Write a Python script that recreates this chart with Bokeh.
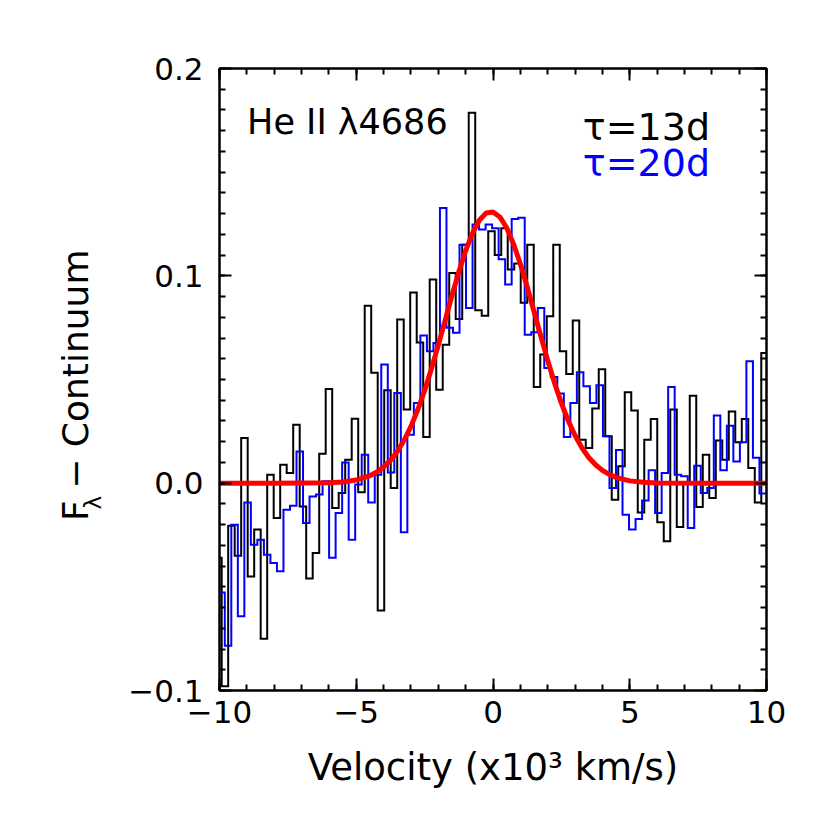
import numpy as np
from bokeh.plotting import figure
from bokeh.models import Range1d, LinearAxis, Label, Title, FixedTicker, CustomJSTickFormatter
from bokeh.embed import file_html
from bokeh.resources import INLINE

# ---------------- data ----------------
# velocity grids (x10^3 km/s): centre of first bin and bin width
black_v0, black_dv = -10.039, 0.2377
blue_v0, blue_dv = -9.926, 0.2384

# tau = 13d (black) flux - continuum, one value per bin
black_flux = [
    -0.036, -0.098, -0.0205, -0.035, 0.0218, -0.045, -0.0224, -0.075, 0.0041, -0.0168,
    0.0089, 0.0049, 0.0282, -0.0112, -0.046, -0.0337, 0.0142, 0.0454, -0.012, -0.0047,
    0.0113, 0.0311, -0.0044, 0.0856, 0.0532, -0.0614, 0.0448, -0.0023, 0.0789, 0.0355,
    0.092, 0.0679, 0.0223, 0.0982, 0.0451, 0.0668, 0.1014, 0.0792, 0.115, 0.1786,
    0.0834, 0.0808, 0.1215, 0.110, 0.123, 0.103, 0.106, 0.087, 0.115, 0.0464,
    0.062, 0.0805, 0.115, 0.0636, 0.0527, 0.0784, 0.021, 0.017, 0.036, 0.055,
    0.0226, -0.008, 0.0081, 0.0438, 0.0351, -0.0141, 0.021, 0.031, -0.0189, -0.028,
    0.0355, -0.0211, 0.0, 0.0422, -0.0115, 0.0137, -0.0071, 0.0206, 0.0113, 0.0346,
    0.0197, 0.031, 0.0073, -0.0093, 0.0628,
]

# tau = 20d (blue)
blue_flux = [
    -0.0527, -0.0784, -0.020, -0.0642, -0.0093, -0.0297, -0.0273, -0.0345, -0.0385, -0.0425,
    -0.0128, -0.0109, 0.0153, -0.0192, -0.0064, -0.0055, 0.0009, -0.036, -0.0144, 0.010,
    -0.0273, -0.0007, 0.0137, -0.0093, 0.0041, 0.0572, 0.0052, 0.0435, -0.0237, 0.0234,
    0.0387, 0.0712, 0.0636, 0.0676, 0.1327, 0.0749, 0.0725, 0.115, 0.0845, 0.1247,
    0.1223, 0.1247, 0.123, 0.108, 0.0958, 0.1274, 0.128, 0.0716, 0.0728, 0.0845,
    0.0556, 0.0512, 0.0432, 0.0223, 0.0387, 0.0535, 0.0467, 0.0387, 0.0472, 0.0226,
    -0.0023, 0.016, -0.0152, -0.0224, -0.0173, -0.0083, 0.0062, -0.0144, 0.0049, 0.0464,
    0.0041, 0.0033, -0.0216, 0.0084, -0.0047, -0.0023, 0.0326, 0.0062, 0.0277, 0.0105,
    0.0197, 0.0588, 0.0122, -0.005,
]

# fitted profile (red)
fit_v = [-10, -8, -6, -5.5, -5, -4.5, -4.25, -4, -3.75, -3.5, -3.25, -3, -2.75, -2.5,
         -2.25, -2, -1.75, -1.5, -1.25, -1, -0.75, -0.5, -0.25, 0, 0.25, 0.5, 0.75, 1,
         1.25, 1.5, 1.75, 2, 2.25, 2.5, 2.75, 3, 3.25, 3.5, 3.75, 4, 4.25, 4.5, 5, 5.5,
         6, 8, 10]
fit_flux = [0.0, 0.0, 0.0002, 0.0006, 0.0015, 0.0036, 0.0054, 0.0078, 0.0110, 0.0153,
            0.0207, 0.0274, 0.0354, 0.0447, 0.0552, 0.0666, 0.0785, 0.0905, 0.1019,
            0.1121, 0.1206, 0.1268, 0.1303, 0.1308, 0.1284, 0.1232, 0.1154, 0.1057,
            0.0947, 0.0828, 0.0708, 0.0592, 0.0483, 0.0386, 0.0301, 0.0230, 0.0171,
            0.0124, 0.0089, 0.0062, 0.0042, 0.0028, 0.0011, 0.0004, 0.0001, 0.0, 0.0]

x_ticks = [-10, -5, 0, 5, 10]
x_minor = list(range(-10, 11))
y_ticks = [-0.1, 0.0, 0.1, 0.2]
y_minor = [round(-0.1 + 0.01 * i, 2) for i in range(31)]

FONT = "DejaVu Sans"


def hist_path(v0, dv, f):
    f = np.asarray(f, dtype=float)
    centers = v0 + dv * np.arange(len(f))
    edges = np.concatenate([centers - dv / 2, [centers[-1] + dv / 2]])
    xs = np.repeat(edges, 2)[1:-1]
    ys = np.repeat(f, 2)
    return xs, ys


p = figure(width=812, height=812, output_backend="svg", toolbar_location=None,
           x_range=Range1d(-10, 10), y_range=Range1d(-0.1, 0.2),
           min_border_left=219, min_border_right=46, min_border_top=68,
           min_border_bottom=122, x_axis_location=None, y_axis_location=None)
p.xgrid.visible = False
p.ygrid.visible = False
p.outline_line_color = "black"
p.outline_line_width = 2
p.background_fill_color = "white"
p.border_fill_color = "white"

xfmt = CustomJSTickFormatter(code="var a = Math.round(Math.abs(tick)); return (tick < -1e-9 ? '\u2212' : '') + a.toString();")
yfmt = CustomJSTickFormatter(code="var s = Math.abs(tick).toFixed(1); return (tick < -1e-9 ? '\u2212' : '') + s;")
blank = CustomJSTickFormatter(code="return '';")


def style(ax, ticks, minor, labels):
    ax.ticker = FixedTicker(ticks=ticks, minor_ticks=minor)
    ax.axis_line_color = "black"
    ax.axis_line_width = 2
    ax.major_tick_line_color = "black"
    ax.major_tick_line_width = 2
    ax.minor_tick_line_color = "black"
    ax.minor_tick_line_width = 2
    ax.major_tick_in = 12
    ax.major_tick_out = 0
    ax.minor_tick_in = 6
    ax.minor_tick_out = 0
    ax.major_label_text_font = FONT
    ax.major_label_text_font_size = "31px"
    ax.major_label_text_color = "black"
    if labels is None:
        ax.formatter = blank
        ax.major_label_text_font_size = "0px"
    else:
        ax.formatter = labels


xb = LinearAxis()
style(xb, x_ticks, x_minor, xfmt)
xb.major_label_standoff = 10
xb.axis_label = "Velocity (x10\u00b3 km/s)"
xb.axis_label_text_font = FONT
xb.axis_label_text_font_size = "37px"
xb.axis_label_text_font_style = "normal"
xb.axis_label_text_color = "black"
xb.axis_label_standoff = 20
p.add_layout(xb, "below")

xt = LinearAxis()
style(xt, x_ticks, x_minor, None)
p.add_layout(xt, "above")

# left: ticks + tick labels (nearest the frame)
yl = LinearAxis()
style(yl, y_ticks, y_minor, yfmt)
yl.major_label_standoff = 16
p.add_layout(yl, "left")

# left: subscript lambda of the y title
lam = Title(text="\u03bb", align="left", offset=181, standoff=40, vertical_align="bottom",
            text_font=FONT, text_font_size="23px", text_font_style="normal",
            text_color="black")
p.add_layout(lam, "left")

# left: main y title
yl2 = LinearAxis(ticker=FixedTicker(ticks=[]), formatter=blank)
yl2.axis_line_color = None
yl2.major_tick_line_color = None
yl2.minor_tick_line_color = None
yl2.major_tick_out = 0
yl2.minor_tick_out = 0
yl2.major_tick_in = 0
yl2.minor_tick_in = 0
yl2.major_label_text_font_size = "0px"
yl2.major_label_standoff = 0
yl2.axis_label = "F  \u2212 Continuum"
yl2.axis_label_text_font = FONT
yl2.axis_label_text_font_size = "36px"
yl2.axis_label_text_font_style = "normal"
yl2.axis_label_text_color = "black"
yl2.axis_label_standoff = -38
p.add_layout(yl2, "left")

yr = LinearAxis()
style(yr, y_ticks, y_minor, None)
p.add_layout(yr, "right")

bx, by = hist_path(black_v0, black_dv, black_flux)
p.line(bx, by, line_color="black", line_width=2, line_join="miter")
ux, uy = hist_path(blue_v0, blue_dv, blue_flux)
p.line(ux, uy, line_color="#0000ff", line_width=2, line_join="miter")
p.line(fit_v, fit_flux, line_color="#ff0000", line_width=5)

# annotations inside the plot
p.add_layout(Label(x=-8.99, y=0.1741, text="He II \u03bb4686", text_font=FONT,
                   text_font_size="35px", text_color="black", text_baseline="alphabetic"))
p.add_layout(Label(x=5.61, y=0.1718, text="\u03c4=13d", text_font=FONT,
                   text_font_size="38px", text_color="black", text_align="center",
                   text_baseline="alphabetic"))
p.add_layout(Label(x=5.61, y=0.1546, text="\u03c4=20d", text_font=FONT,
                   text_font_size="38px", text_color="#0000ff", text_align="center",
                   text_baseline="alphabetic"))

open("out.html", "w").write(file_html(p, INLINE))
